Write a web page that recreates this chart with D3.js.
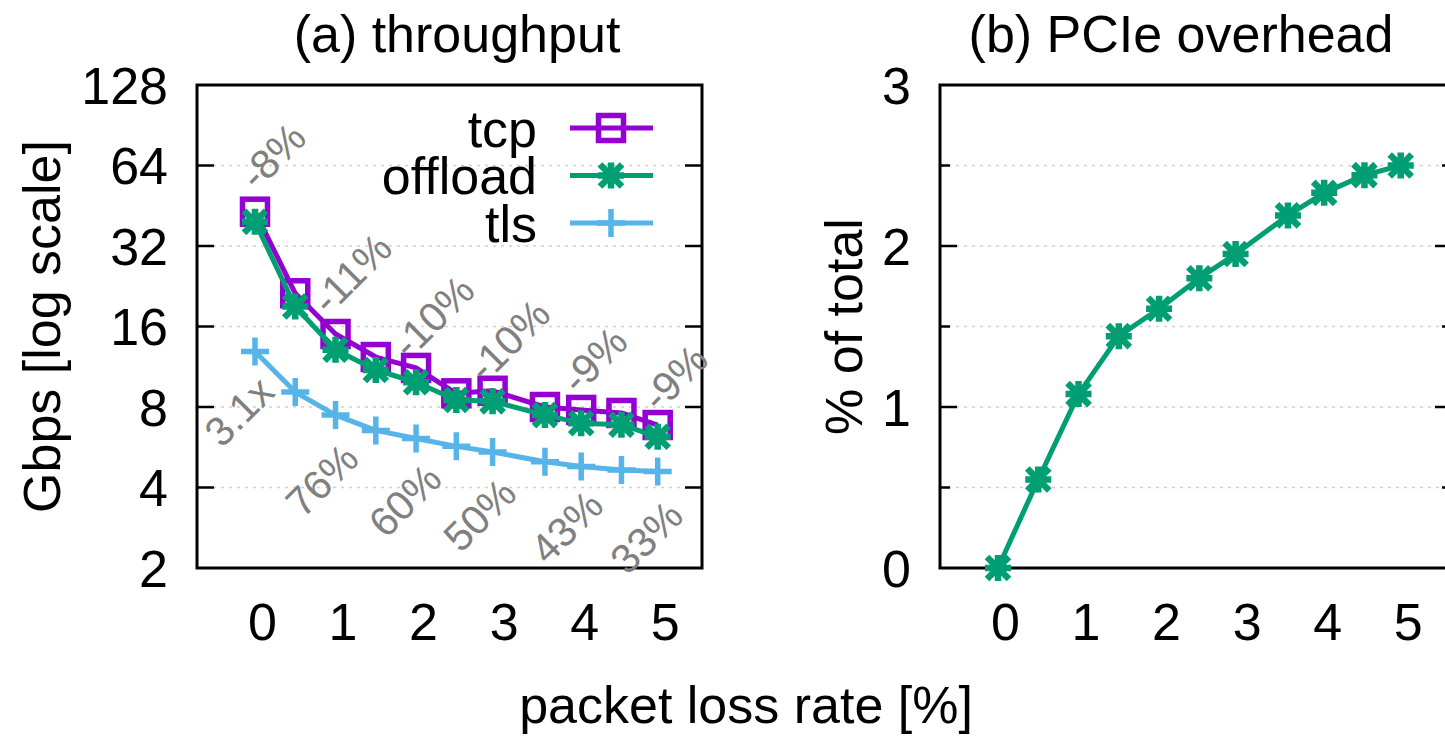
<!DOCTYPE html>
<html>
<head>
<meta charset="utf-8">
<script src="https://cdn.jsdelivr.net/npm/d3@7"></script>
<style>
  body { margin: 0; background: #fff; }
  svg { font-family: 'Liberation Sans', Arial, Helvetica, sans-serif; }
</style>
</head>
<body>
<svg id="chart" width="1445" height="738"></svg>
<script>
/* global d3 */

// measured loss rate [%] for each run
var lossRate = [0, 0.5, 1, 1.5, 2, 2.5, 2.95, 3.6, 4.05, 4.55, 5]

// (a) throughput, Gbps
var tcp = [43, 21.3, 15, 12.3, 11.2, 9.0, 9.2, 8.0, 7.8, 7.6, 6.85]
var offload = [39.4, 19, 13.1, 11, 9.9, 8.5, 8.4, 7.46, 6.96, 6.87, 6.19]
var tls = [12.9, 9.1, 7.46, 6.54, 6.1, 5.7, 5.43, 4.99, 4.79, 4.65, 4.59]

// (b) PCIe overhead, % of total
var pcie = [0, 0.55, 1.08, 1.44, 1.61, 1.8, 1.95, 2.19, 2.33, 2.44, 2.5]

var xTicks = [0, 1, 2, 3, 4, 5]
var yTicksA = [2, 4, 8, 16, 32, 64, 128]
var yTicksB = [0, 0.5, 1, 1.5, 2, 2.5, 3]

// gap of offload vs tcp, speedup of offload vs tls
var gapText = ['-8%', '-11%', '-10%', '-10%', '-9%', '-9%']
var gapX = [0.22, 1.2, 2.21, 3.15, 4.21, 5.21]
var gapY = [69.6, 25.3, 17.4, 14.2, 12.0, 10.3]
var gainText = ['3.1x', '76%', '60%', '50%', '43%', '33%']
var gainX = [-0.2, 0.83, 1.86, 2.79, 3.87, 4.86]
var gainY = [7.7, 4.26, 3.58, 3.16, 2.85, 2.61]

;(function () {
  var series = [
    {name: 'tcp', values: tcp, color: '#9400d3', mark: 'square'},
    {name: 'offload', values: offload, color: '#009e73', mark: 'star'},
    {name: 'tls', values: tls, color: '#56b4e9', mark: 'plus'}
  ]

  var svg = d3.select('#chart')
  var yTop = 85
  var yBot = 568
  var plotW = 505
  var fs = 52

  function marker (sel, kind, color) {
    if (kind === 'square') {
      sel.append('rect')
          .attr('x', -12.5).attr('y', -12.5)
          .attr('width', 25).attr('height', 25)
          .attr('fill', 'none')
          .attr('stroke', color)
          .attr('stroke-width', 5.5)
    } else if (kind === 'star') {
      sel.append('path')
          .attr('d', 'M-13,0L13,0M0,-13L0,13M-11,-11L11,11M-11,11L11,-11')
          .attr('stroke', color)
          .attr('stroke-width', 6.5)
    } else {
      sel.append('path')
          .attr('d', 'M-14,0L14,0M0,-14L0,14')
          .attr('stroke', color)
          .attr('stroke-width', 5.5)
    }
  }

  function panel (x0, boxW, y, yTicks, labelTicks, minorTicks) {
    var g = svg.append('g').attr('transform', `translate(${x0},0)`)
    var x = d3.scaleLinear().domain([-0.72, 5.55]).range([0, plotW])
    var inner = yTicks.slice(1, -1)
    var len = d => minorTicks.indexOf(d) >= 0 ? 10 : 17

    // grid
    g.append('g').selectAll('line')
        .data(inner)
        .enter().append('line')
        .attr('x1', 0).attr('x2', boxW)
        .attr('y1', d => y(d)).attr('y2', d => y(d))
        .attr('stroke', '#d0d0d0')
        .attr('stroke-width', 1.5)
        .attr('stroke-dasharray', '3,5')

    // y ticks, mirrored on the right
    var tk = g.append('g').selectAll('g')
        .data(inner)
        .enter().append('g')
    tk.append('line')
        .attr('x1', 0).attr('x2', len)
        .attr('y1', d => y(d)).attr('y2', d => y(d))
        .attr('stroke', '#000').attr('stroke-width', 2.5)
    tk.append('line')
        .attr('x1', boxW).attr('x2', d => boxW - len(d))
        .attr('y1', d => y(d)).attr('y2', d => y(d))
        .attr('stroke', '#000').attr('stroke-width', 2.5)

    g.append('g').selectAll('text')
        .data(labelTicks)
        .enter().append('text')
        .attr('x', -29)
        .attr('y', d => y(d))
        .attr('dy', '0.36em')
        .attr('text-anchor', 'end')
        .attr('font-size', fs)
        .text(d => d)

    // x tick labels
    var xa = g.append('g')
        .attr('transform', `translate(7,${yBot})`)
        .call(d3.axisBottom(x).tickValues(xTicks).tickSize(0).tickPadding(35).tickFormat(d3.format('d')))
    xa.select('.domain').remove()
    xa.selectAll('text')
        .attr('font-size', fs)
        .attr('fill', '#000')
    xa.attr('font-family', null).attr('font-size', null)

    g.append('rect')
        .attr('width', boxW).attr('height', yBot - yTop).attr('y', yTop)
        .attr('fill', 'none').attr('stroke', '#000').attr('stroke-width', 3)

    return {g: g, x: x}
  }

  function text (x, y, s, rot) {
    svg.append('text')
        .attr('transform', `translate(${x},${y})` + (rot ? ` rotate(${rot})` : ''))
        .attr('text-anchor', 'middle')
        .attr('font-size', fs)
        .text(s)
  }

  /*
      --------------------------------------
      (a) throughput
  */
  var yA = d3.scaleLog().base(2).domain([2, 128]).range([yBot, yTop])
  var pa = panel(197, plotW, yA, yTicksA, yTicksA, [])
  var lineA = d3.line()
      .x((d, i) => pa.x(lossRate[i]))
      .y(d => yA(d))

  series.forEach(s => {
    pa.g.append('path')
        .attr('d', lineA(s.values))
        .attr('fill', 'none')
        .attr('stroke', s.color)
        .attr('stroke-width', 5)
        .attr('stroke-linejoin', 'round')
    pa.g.append('g').selectAll('g')
        .data(s.values)
        .enter().append('g')
        .attr('transform', (d, i) => `translate(${pa.x(lossRate[i])},${yA(d)})`)
        .each(function () { marker(d3.select(this), s.mark, s.color) })
  })

  function notes (texts, xs, ys) {
    pa.g.append('g').selectAll('text')
        .data(texts)
        .enter().append('text')
        .attr('transform', (d, i) => `translate(${pa.x(xs[i])},${yA(ys[i])}) rotate(-45)`)
        .attr('text-anchor', 'middle')
        .attr('dy', '0.35em')
        .attr('font-size', 41)
        .attr('fill', '#808080')
        .text(d => d)
  }
  notes(gapText, gapX, gapY)
  notes(gainText, gainX, gainY)

  // legend
  var leg = pa.g.append('g').selectAll('g')
      .data(series)
      .enter().append('g')
      .attr('transform', (d, i) => `translate(0,${128 + i * 47.5})`)
  leg.append('text')
      .attr('x', 340)
      .attr('dy', '0.36em')
      .attr('text-anchor', 'end')
      .attr('font-size', fs)
      .text(d => d.name)
  leg.append('line')
      .attr('x1', 373).attr('x2', 456)
      .attr('stroke', d => d.color)
      .attr('stroke-width', 5)
  leg.append('g')
      .attr('transform', 'translate(414,0)')
      .each(function (d) { marker(d3.select(this), d.mark, d.color) })

  text(60, (yTop + yBot) / 2, 'Gbps [log scale]', -90)
  text(457, 52, '(a) throughput')

  /*
      --------------------------------------
      (b) PCIe overhead
  */
  var yB = d3.scaleLinear().domain([0, 3]).range([yBot, yTop])
  var pb = panel(940, 512, yB, yTicksB, [0, 1, 2, 3], [0.5, 1.5, 2.5])
  var lineB = d3.line()
      .x((d, i) => pb.x(lossRate[i]))
      .y(d => yB(d))

  pb.g.append('path')
      .attr('d', lineB(pcie))
      .attr('fill', 'none')
      .attr('stroke', '#009e73')
      .attr('stroke-width', 5)
      .attr('stroke-linejoin', 'round')
  pb.g.append('g').selectAll('g')
      .data(pcie)
      .enter().append('g')
      .attr('transform', (d, i) => `translate(${pb.x(lossRate[i])},${yB(d)})`)
      .each(function () { marker(d3.select(this), 'star', '#009e73') })

  text(862, (yTop + yBot) / 2, '% of total', -90)
  text(1181, 52, '(b) PCIe overhead')

  text(746, 723, 'packet loss rate [%]')
})()
</script>
</body>
</html>
